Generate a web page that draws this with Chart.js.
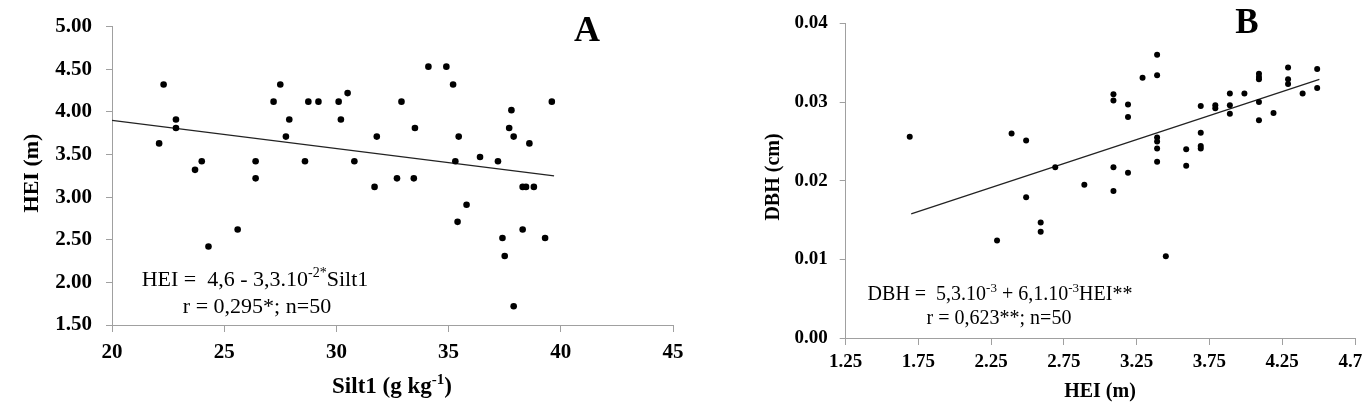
<!DOCTYPE html>
<html>
<head>
<meta charset="utf-8">
<script src="https://cdn.jsdelivr.net/npm/chart.js@4.4.1/dist/chart.umd.min.js"></script>
<style>
  html, body { margin: 0; padding: 0; background: #fff; width: 1362px; height: 411px; overflow: hidden; }
  #chartA { position: absolute; left: 0; top: 0; }
  #chartB { position: absolute; left: 700px; top: 0; }
</style>
</head>
<body>
<canvas id="chartA" width="700" height="411"></canvas>
<canvas id="chartB" width="700" height="411"></canvas>
<script>
// Panel A data: Silt1 vs HEI
const siltA = [22.1, 22.3, 22.85, 22.85, 23.7, 24.0, 24.3, 25.6, 26.4, 26.4, 27.2, 27.5, 27.75, 27.9, 28.6, 28.75, 29.2, 30.1, 30.2, 30.5, 30.8, 31.7, 31.8, 32.7, 32.9, 33.45, 33.5, 34.1, 34.9, 35.2, 35.3, 35.4, 35.45, 35.8, 36.4, 37.2, 37.4, 37.5, 37.7, 37.8, 37.9, 37.9, 38.3, 38.3, 38.45, 38.6, 38.8, 39.3, 39.6];
const heiA = [3.63, 4.32, 3.91, 3.81, 3.32, 3.42, 2.42, 2.62, 3.42, 3.22, 4.12, 4.32, 3.71, 3.91, 3.42, 4.12, 4.12, 4.12, 3.91, 4.22, 3.42, 3.12, 3.71, 3.22, 4.12, 3.22, 3.81, 4.53, 4.53, 4.32, 3.42, 2.71, 3.71, 2.91, 3.47, 3.42, 2.52, 2.31, 3.81, 4.02, 3.71, 1.72, 2.62, 3.12, 3.12, 3.63, 3.12, 2.52, 4.12];
const fitAX = [20, 39.7];
const fitAY = [3.90, 3.25];
const ticksAX = [20, 25, 30, 35, 40, 45];
const labelsAX = ['20', '25', '30', '35', '40', '45'];
const ticksAY = [1.5, 2, 2.5, 3, 3.5, 4, 4.5, 5];
const labelsAY = ['1.50', '2.00', '2.50', '3.00', '3.50', '4.00', '4.50', '5.00'];

// Panel B data: HEI vs DBH
const heiB = [1.69, 2.29, 2.39, 2.49, 2.49, 2.59, 2.59, 2.69, 2.89, 3.09, 3.09, 3.09, 3.09, 3.19, 3.19, 3.19, 3.29, 3.39, 3.39, 3.39, 3.39, 3.39, 3.39, 3.45, 3.59, 3.59, 3.69, 3.69, 3.69, 3.69, 3.79, 3.79, 3.89, 3.89, 3.89, 3.99, 4.09, 4.09, 4.09, 4.09, 4.09, 4.19, 4.29, 4.29, 4.29, 4.39, 4.49, 4.49];
const dbhB = [0.0256, 0.0124, 0.0260, 0.0251, 0.0179, 0.0147, 0.0135, 0.0217, 0.0195, 0.0217, 0.0187, 0.0310, 0.0302, 0.0210, 0.0297, 0.0281, 0.0331, 0.0360, 0.0334, 0.0255, 0.0250, 0.0241, 0.0224, 0.0104, 0.0219, 0.0240, 0.0295, 0.0261, 0.0244, 0.0241, 0.0296, 0.0292, 0.0311, 0.0296, 0.0285, 0.0311, 0.0336, 0.0332, 0.0329, 0.0300, 0.0277, 0.0286, 0.0344, 0.0329, 0.0323, 0.0311, 0.0342, 0.0318];
const fitBX = [1.70, 4.505];
const fitBY = [0.01578, 0.03288];
const ticksBX = [1.25, 1.75, 2.25, 2.75, 3.25, 3.75, 4.25, 4.75];
const labelsBX = ['1.25', '1.75', '2.25', '2.75', '3.25', '3.75', '4.25', '4.75'];
const ticksBY = [0, 0.01, 0.02, 0.03, 0.04];
const labelsBY = ['0.00', '0.01', '0.02', '0.03', '0.04'];

const SERIF = "'Liberation Serif', 'Times New Roman', serif";
const AXIS_GRAY = '#a0a0a0';

// draw a line of text with optional superscript parts, centered at cx
function drawRich(ctx, parts, cx, baseline, size, weight) {
  const supSize = Math.round(size * 0.65);
  let total = 0;
  parts.forEach(p => {
    ctx.font = `${weight} ${p.sup ? supSize : size}px ${SERIF}`;
    p.w = ctx.measureText(p.t).width;
    total += p.w;
  });
  let x = cx - total / 2;
  ctx.textAlign = 'left';
  ctx.textBaseline = 'alphabetic';
  parts.forEach(p => {
    ctx.font = `${weight} ${p.sup ? supSize : size}px ${SERIF}`;
    ctx.fillText(p.t, x, p.sup ? baseline - size * 0.4 : baseline);
    x += p.w;
  });
}

function textPlugin(cfg) {
  return {
    id: 'panelText',
    afterDraw(chart) {
      const ctx = chart.ctx;
      ctx.save();
      ctx.fillStyle = '#000';
      // panel letter
      drawRich(ctx, [{ t: cfg.letter }], cfg.letterX, cfg.letterY, cfg.letterSize, 'bold');
      // regression text
      cfg.eq.forEach(line => drawRich(ctx, line.parts, line.x, line.y, cfg.eqSize, 'normal'));
      // x title
      drawRich(ctx, cfg.xTitle, cfg.xTitleX, cfg.xTitleY, cfg.xTitleSize, 'bold');
      // y title, rotated
      ctx.translate(cfg.yTitleX, cfg.yTitleY);
      ctx.rotate(-Math.PI / 2);
      drawRich(ctx, [{ t: cfg.yTitle }], 0, 0, cfg.yTitleSize, 'bold');
      ctx.restore();
    }
  };
}

function axis(min, max, tickVals, tickLabels, size, extra) {
  return Object.assign({
    type: 'linear',
    min: min,
    max: max,
    afterBuildTicks: s => { s.ticks = tickVals.map(v => ({ value: v })); },
    ticks: {
      autoSkip: false,
      maxRotation: 0,
      color: '#000',
      font: { family: SERIF, size: size, weight: 'bold' },
      callback: (v, i) => tickLabels[i]
    },
    grid: { drawOnChartArea: false, drawTicks: true, color: AXIS_GRAY, lineWidth: 1 },
    border: { color: AXIS_GRAY, width: 1 }
  }, extra);
}

function scatterConfig(xs, ys, fx, fy, radius, scales, padding, plugin) {
  return {
    type: 'scatter',
    data: {
      datasets: [
        {
          data: xs.map((x, i) => ({ x: x, y: ys[i] })),
          backgroundColor: '#000',
          borderWidth: 0,
          pointRadius: radius,
          pointHoverRadius: radius
        },
        {
          type: 'line',
          data: fx.map((x, i) => ({ x: x, y: fy[i] })),
          borderColor: '#222',
          borderWidth: 1.3,
          pointRadius: 0,
          fill: false
        }
      ]
    },
    options: {
      responsive: false,
      animation: false,
      devicePixelRatio: 1,
      layout: { padding: padding },
      plugins: { legend: { display: false }, tooltip: { enabled: false } },
      scales: scales
    },
    plugins: [plugin]
  };
}

// Panel A
const scalesA = {
  x: axis(20, 45, ticksAX, labelsAX, 21, { afterFit: s => { s.height = 86; } }),
  y: axis(1.5, 5, ticksAY, labelsAY, 21, { afterFit: s => { s.width = 112; } })
};
scalesA.x.grid.tickLength = 7;
scalesA.x.ticks.padding = 8;
scalesA.y.grid.tickLength = 6;
scalesA.y.ticks.padding = 14;

new Chart(document.getElementById('chartA'), scatterConfig(
  siltA, heiA, fitAX, fitAY, 3.3, scalesA,
  { left: 0, top: 19, right: 27, bottom: 0 },
  textPlugin({
    letter: 'A', letterX: 587, letterY: 41, letterSize: 36,
    eqSize: 22,
    eq: [
      { x: 255, y: 286, parts: [{ t: 'HEI =  4,6 - 3,3.10' }, { t: '-2*', sup: true }, { t: 'Silt1' }] },
      { x: 257, y: 313, parts: [{ t: 'r = 0,295*; n=50' }] }
    ],
    xTitle: [{ t: 'Silt1 (g kg' }, { t: '-1', sup: true }, { t: ')' }],
    xTitleX: 392, xTitleY: 393, xTitleSize: 23,
    yTitle: 'HEI (m)', yTitleX: 38, yTitleY: 173, yTitleSize: 22
  })
));

// Panel B
const scalesB = {
  x: axis(1.25, 4.75, ticksBX, labelsBX, 19, { afterFit: s => { s.height = 73; } }),
  y: axis(0, 0.04, ticksBY, labelsBY, 19, { afterFit: s => { s.width = 145.7; } })
};
scalesB.x.grid.tickLength = 7;
scalesB.x.ticks.padding = 6;
scalesB.y.grid.tickLength = 6;
scalesB.y.ticks.padding = 12;

new Chart(document.getElementById('chartB'), scatterConfig(
  heiB, dbhB, fitBX, fitBY, 3, scalesB,
  { left: 0, top: 16, right: 45, bottom: 0 },
  textPlugin({
    letter: 'B', letterX: 547, letterY: 33, letterSize: 35,
    eqSize: 20,
    eq: [
      { x: 300, y: 300, parts: [{ t: 'DBH =  5,3.10' }, { t: '-3', sup: true }, { t: ' + 6,1.10' }, { t: '-3', sup: true }, { t: 'HEI**' }] },
      { x: 299, y: 324, parts: [{ t: 'r = 0,623**; n=50' }] }
    ],
    xTitle: [{ t: 'HEI (m)' }],
    xTitleX: 400, xTitleY: 397, xTitleSize: 20,
    yTitle: 'DBH (cm)', yTitleX: 79, yTitleY: 177, yTitleSize: 20
  })
));
</script>
</body>
</html>
